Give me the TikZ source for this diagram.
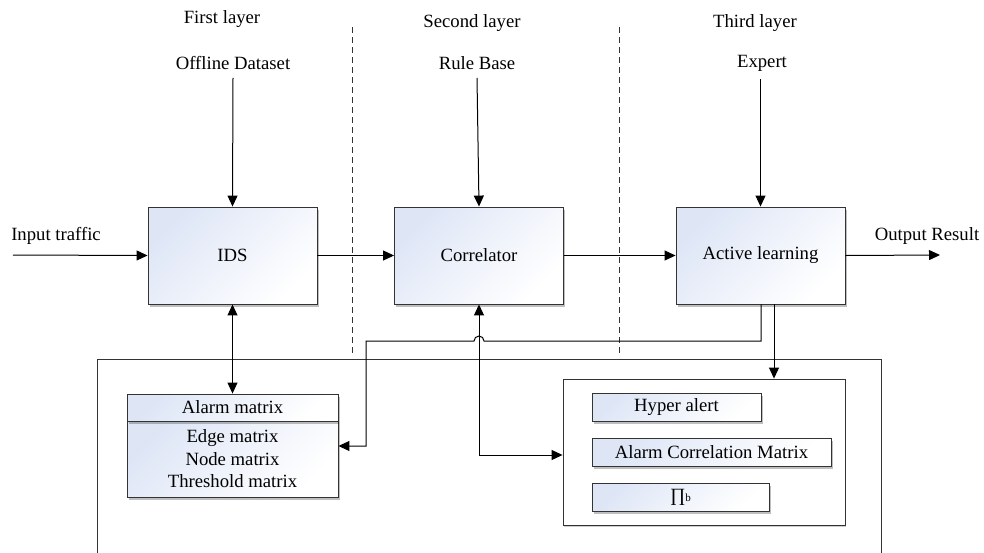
\documentclass[tikz,border=0pt]{standalone}
\usepackage{fontspec}
\setmainfont{Liberation Serif}
\usetikzlibrary{arrows.meta,shadows}
\definecolor{boxblue}{RGB}{222,230,246}
\tikzset{
  shaded/.style={draw=black!80, line width=0.9pt, top color=boxblue, bottom color=white, shading angle=45,
    drop shadow={shadow xshift=1.5pt, shadow yshift=-2.5pt, fill=black, opacity=0.25}, inner sep=0pt},
  bigbox/.style={shaded, minimum width=169pt, minimum height=97pt},
  lbl/.style={inner sep=0pt},
  conn/.style={line width=1pt, black},
  arr/.style={conn, -{Triangle[length=11pt,width=10pt]}},
  darr/.style={conn, {Triangle[length=11pt,width=10pt]}-{Triangle[length=11pt,width=10pt]}},
  divider/.style={black!80, line width=0.6pt, dash pattern=on 6pt off 4pt},
}
\begin{document}
\begin{tikzpicture}[x=1pt,y=-1pt]
\fontsize{18.7}{22.5}\selectfont
\useasboundingbox (0,0) rectangle (984,552);
\clip (0,0) rectangle (984,552);
% layer titles
\node[lbl] (l1) at (222,19) {First layer};
\node[lbl] (l2) at (472,23) {Second layer};
\node[lbl] (l3) at (755,23) {Third layer};
% dividers
\coordinate (d1a) at (352,27); \coordinate (d1b) at (352,355);
\coordinate (d2a) at (619,27); \coordinate (d2b) at (619,355);
\draw[divider] (d1a) -- (d1b);
\draw[divider] (d2a) -- (d2b);
% outer box
\draw[line width=0.9pt, black!80, drop shadow={shadow xshift=1pt, shadow yshift=-2pt, fill=black, opacity=0.2}, fill=white] (97,359) rectangle (881,570);
% top sources
\node[lbl] (off) at (233,63) {Offline Dataset};
\node[lbl] (rule) at (477,63) {Rule Base};
\node[lbl] (exp) at (762,63) {Expert};
% main boxes
\node[bigbox] (ids) at (232.5,255.5) {IDS};
\node[bigbox] (corr) at (479,255.5) {Correlator};
\node[bigbox] (act) at (760.5,255.5) {Active learning};
% inputs/outputs
\coordinate (in) at (13,255);
\coordinate (out) at (940,255);
\node[lbl] (intxt) at (56,236) {Input traffic};
\node[lbl] (outtxt) at (927,236) {Output Result};
% alarm matrix
\node[shaded, minimum width=211pt, minimum height=76pt, align=center] (abody) at (232.5,459) {Edge matrix\\Node matrix\\Threshold matrix};
\node[shaded, minimum width=211pt, minimum height=27pt] (ahead) at (232.5,407.5) {Alarm matrix};
% right inner box
\node[draw=black!80, line width=0.9pt, fill=white, minimum width=282pt, minimum height=146pt, inner sep=0pt,
  drop shadow={shadow xshift=1pt, shadow yshift=-2pt, fill=black, opacity=0.2}] (inner) at (704,452) {};
\node[shaded, minimum width=169pt, minimum height=28pt] (hyp) at (676.5,407) {Hyper alert};
\node[shaded, minimum width=239pt, minimum height=28pt] (acm) at (711.5,452) {Alarm Correlation Matrix};
\node[shaded, minimum width=177pt, minimum height=28pt] (pib) at (680.5,497) {∏{\fontsize{11}{11}\selectfont b}};
% connectors
\draw[arr] ([yshift=-8pt]off.south) -- (ids.north);
\draw[arr] ([yshift=-8pt]rule.south) -- (corr.north);
\draw[arr] ([yshift=-8pt]exp.south -| act.north) -- (act.north);
\draw[arr] (in) -- (ids.west);
\draw[arr] (ids.east) -- (corr.west);
\draw[arr] (corr.east) -- (act.west);
\draw[arr] (act.east) -- (out);
\draw[darr] (ids.south) -- (ahead.north);
\draw[darr] (corr.south) |- ([yshift=-3pt]inner.west);
\coordinate (k1) at (366,341);
\coordinate (hopR) at (484,341);
\coordinate (hopL) at (474,341);
\draw[arr] ([xshift=0.5pt]act.south) -- ([xshift=0.5pt]act.south |- k1) -- (hopR)
  arc[start angle=0, end angle=180, radius=5pt] -- (k1) |- ([yshift=13pt]abody.east);
\draw[arr] ([xshift=13.5pt]act.south) -- ([xshift=13.5pt]act.south |- inner.north);
\end{tikzpicture}
\end{document}
